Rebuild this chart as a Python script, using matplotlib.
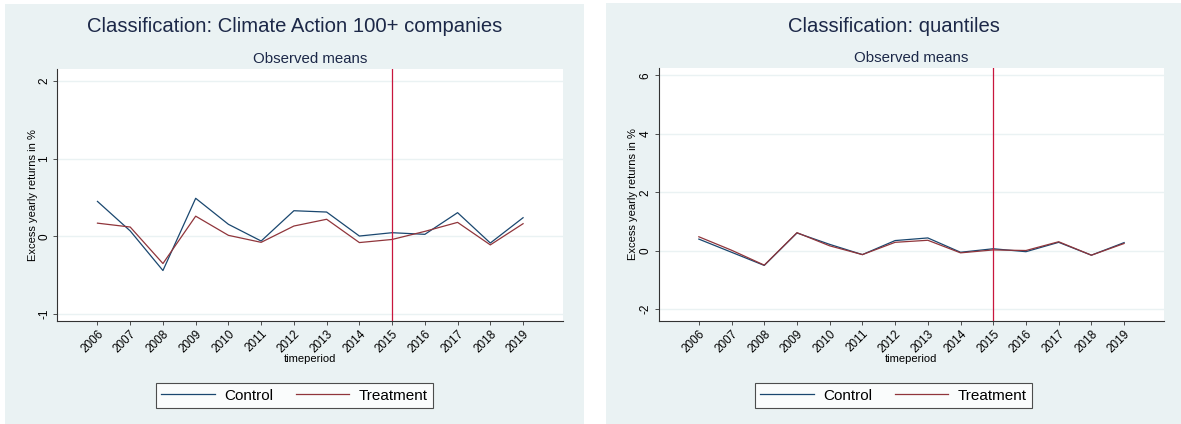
import numpy as np
import matplotlib
matplotlib.use("Agg")
import matplotlib.pyplot as plt
from matplotlib.patches import Rectangle
from matplotlib.lines import Line2D

plt.rcParams['font.family'] = ['Liberation Sans', 'DejaVu Sans']

years = np.arange(2006, 2020)

# Climate Action 100+ classification
ca_control = [0.45, 0.07, -0.44, 0.49, 0.155, -0.06, 0.33, 0.313, 0.004, 0.047, 0.026, 0.305, -0.086, 0.24]
ca_treatment = [0.17, 0.12, -0.35, 0.26, 0.013, -0.077, 0.133, 0.22, -0.08, -0.04, 0.064, 0.18, -0.11, 0.163]

# quantile classification
q_control = [0.40, -0.05, -0.50, 0.61, 0.22, -0.13, 0.35, 0.44, -0.05, 0.07, -0.03, 0.29, -0.15, 0.28]
q_treatment = [0.48, 0.02, -0.49, 0.62, 0.17, -0.13, 0.29, 0.36, -0.07, 0.03, 0.01, 0.31, -0.15, 0.25]

ca_yticks = [-1, 0, 1, 2]
q_yticks = [-2, 0, 2, 4, 6]
event_year = 2015

titles = ["Classification: Climate Action 100+ companies", "Classification: quantiles"]

W, H = 1181, 424
navy = '#1c2848'
c_control = '#1a476f'
c_treat = '#90353b'
c_vline = '#c8163d'
bg = '#eaf2f3'

fig = plt.figure(figsize=(W / 100, H / 100), dpi=100)
fig.patch.set_facecolor('white')


def px_axes(x0, x1, y0, y1):
    # pixel box (top-left origin) -> figure fraction
    return fig.add_axes([x0 / W, 1 - y1 / H, (x1 - x0) / W, (y1 - y0) / H])


panels = [
    dict(bg=(5, 584, 4, 424), ax=(57.2, 563, 69, 321), ylim=(-1.09, 2.155),
         yticks=ca_yticks, control=ca_control, treat=ca_treatment, ylab_x=33),
    dict(bg=(606, 1181, 3, 424), ax=(658.6, 1164, 68, 321), ylim=(-2.40, 6.25),
         yticks=q_yticks, control=q_control, treat=q_treatment, ylab_x=633),
]

for p, title in zip(panels, titles):
    bx0, bx1, by0, by1 = p['bg']
    fig.patches.append(Rectangle((bx0 / W, 1 - by1 / H), (bx1 - bx0) / W, (by1 - by0) / H,
                                 transform=fig.transFigure, facecolor=bg, edgecolor='none', zorder=-10))
    cx = (bx0 + bx1) / 2
    fig.text(cx / W, 1 - 26 / H, title, ha='center', va='center', fontsize=14.6, color=navy)

    ax0, ax1, ay0, ay1 = p['ax']
    ax = px_axes(ax0, ax1, ay0, ay1)
    ax.set_facecolor('white')
    ax.plot(years, p['control'], color=c_control, lw=0.9, label='Control')
    ax.plot(years, p['treat'], color=c_treat, lw=0.9, label='Treatment')
    ax.axvline(event_year, color=c_vline, lw=0.9)
    ax.set_xlim(2004.77, 2020.22)
    ax.set_ylim(*p['ylim'])
    ax.set_yticks(p['yticks'])
    ax.set_xticks(years)
    ax.set_xticklabels([str(y) for y in years], rotation=45, ha='right', rotation_mode='anchor')
    ax.set_yticklabels([str(t) for t in p['yticks']], rotation=90, va='center')
    ax.tick_params(axis='both', labelsize=8.5, length=3, width=0.6, pad=2,
                   color='#333333', labelcolor='black')
    ax.grid(axis='y', color=bg, lw=1.0)
    ax.set_axisbelow(True)
    for s in ['top', 'right']:
        ax.spines[s].set_visible(False)
    for s in ['left', 'bottom']:
        ax.spines[s].set_color('#333333')
        ax.spines[s].set_linewidth(0.8)

    ax.set_title("Observed means", fontsize=10.8, color=navy, pad=4)
    fig.text(p['ylab_x'] / W, 1 - (ay0 + ay1) / 2 / H, "Excess yearly returns in %",
             rotation=90, ha='center', va='center', fontsize=8)
    fig.text((ax0 + ax1) / 2 / W, 1 - 359 / H, "timeperiod", ha='center', va='center', fontsize=8)

    handles = [Line2D([], [], color=c_control, lw=0.9), Line2D([], [], color=c_treat, lw=0.9)]
    leg = fig.legend(handles, ['Control', 'Treatment'], loc='center',
                     bbox_to_anchor=(cx / W, 1 - 395.5 / H), ncol=2, fontsize=11,
                     frameon=True, fancybox=False, handlelength=3.5, handletextpad=0.6,
                     columnspacing=1.5, borderpad=0.35)
    leg.get_frame().set_edgecolor('#222222')
    leg.get_frame().set_linewidth(0.8)

fig.savefig('out.png', dpi=100, facecolor='white')
